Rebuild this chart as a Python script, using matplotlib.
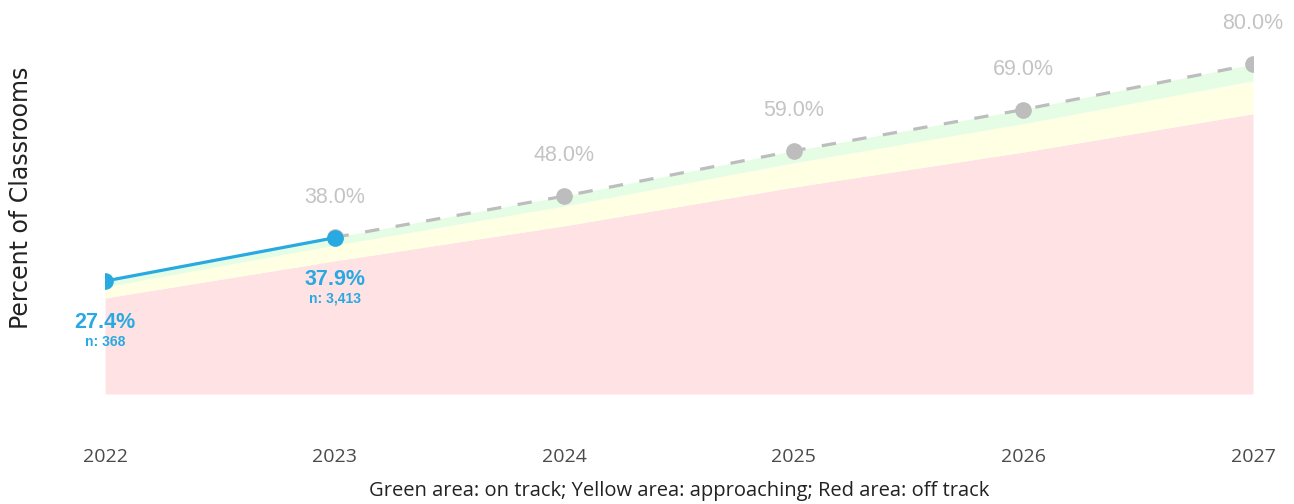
import matplotlib.pyplot as plt

years = [2022, 2023, 2024, 2025, 2026, 2027]
red_top = [23.3, 32.3, 40.8, 50.2, 58.7, 68.0]      # off track
yellow_top = [26.0, 36.1, 45.6, 56.1, 65.6, 76.0]   # approaching
green_top = [27.4, 38.0, 48.0, 59.0, 69.0, 80.0]    # on track

target_years = [2023, 2024, 2025, 2026, 2027]
target_vals = [38.0, 48.0, 59.0, 69.0, 80.0]

actual_years = [2022, 2023]
actual_vals = [27.4, 37.9]
actual_n = ['n: 368', 'n: 3,413']

BLUE = '#29a9e1'
GRAY = '#bdbdbd'

fig = plt.figure(figsize=(12.94, 5.04), dpi=100)
ax = fig.add_axes([105/1294, 110/504, 1148/1294, 371/504])

# zones
ax.fill_between(years, 0, red_top, color='#ffe2e4', lw=0)
ax.fill_between(years, red_top, yellow_top, color='#ffffe3', lw=0)
ax.fill_between(years, yellow_top, green_top, color='#e4fde4', lw=0)

# target line
ax.plot(target_years, target_vals, color=GRAY, lw=2.3, dashes=(4.5, 5.2),
        marker='o', markersize=11, zorder=3)
for x, y in zip(target_years, target_vals):
    ax.annotate('%.1f%%' % y, (x, y), xytext=(0, 29), textcoords='offset points',
                ha='center', va='center', color='#c4c4c4', fontsize=15.5,
                family='Liberation Sans')

# actual line
ax.plot(actual_years, actual_vals, color=BLUE, lw=2.3, marker='o',
        markersize=11, zorder=4)
for x, y, n in zip(actual_years, actual_vals, actual_n):
    ax.annotate('%.1f%%' % y, (x, y), xytext=(0, -30), textcoords='offset points',
                ha='center', va='center', color=BLUE, fontsize=15.5,
                fontweight='bold', family='Liberation Sans')
    ax.annotate(n, (x, y), xytext=(0, -44), textcoords='offset points',
                ha='center', va='center', color=BLUE, fontsize=10,
                fontweight='bold', family='Liberation Sans')

ax.set_xlim(2022, 2027)
ax.set_ylim(0, 90)
ax.set_xticks(years)
ax.set_xticklabels([str(y) for y in years], family='Open Sans', fontsize=14,
                   color='#4a4a4a')
ax.tick_params(axis='x', length=0, pad=39)
ax.set_yticks([])
for s in ax.spines.values():
    s.set_visible(False)
ax.patch.set_alpha(0)

ax.set_xlabel('Green area: on track; Yellow area: approaching; Red area: off track',
              family='Open Sans', fontsize=14.5, color='#222222', labelpad=11)
fig.text(21/1294, 1 - 198/504, 'Percent of Classrooms', rotation=90,
         ha='center', va='center', fontsize=17, color='#222222', family='DejaVu Sans')

fig.savefig('out.png', dpi=100)
